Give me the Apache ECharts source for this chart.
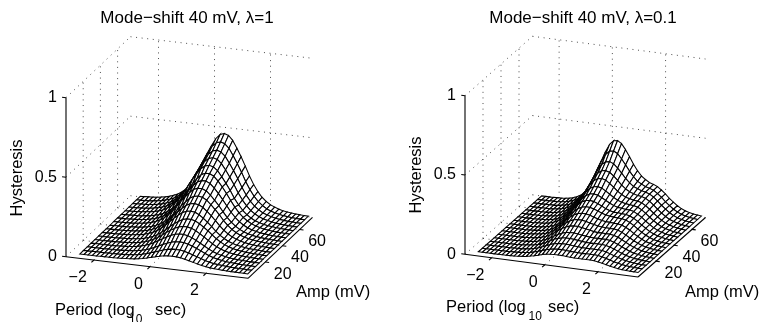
<!DOCTYPE html>
<html>
<head>
<meta charset="utf-8">
<style>
  html, body { margin: 0; padding: 0; background: #fff; }
  #chart { width: 763px; height: 322px; }
</style>
</head>
<body>
<div id="chart"></div>
<script src="https://cdn.jsdelivr.net/npm/echarts@6/dist/echarts.min.js"></script>
<script>
const periods = [-2.6,-2.45,-2.3,-2.15,-2,-1.85,-1.7,-1.55,-1.4,-1.25,-1.1,-.95,-.8,-.65,-.5,-.35,-.2,-.05,.1,.25,.4,.55,.7,.85,1,1.15,1.3,1.45,1.6,1.75,1.9,2.05,2.2,2.35,2.5,2.65,2.8,2.95,3.1,3.25,3.4]
const amps = [3,7.4,11.8,16.2,20.6,25,29.4,33.8,38.2,42.6,47,51.4,55.8,60.2,64.6,69,73.4]

const periodTicks = [-2, 0, 2]
const ampTicks = [20, 40, 60]
const hystTicks = [0, 0.5, 1]
const hystTickLabels = ['0', '0.5', '1']

// hysteresis x 1000, one row per amp, one column per period
const hystLeft = [
  [10,10,10,10,10,11,11,12,12,13,14,16,18,20,24,29,35,42,49,55,61,64,65,64,61,55,49,42,35,29,24,20,18,16,14,13,12,12,11,11,10],
  [10,10,11,11,11,11,12,12,13,14,16,18,21,24,30,36,45,54,63,72,79,84,85,84,79,72,63,54,45,36,30,24,21,18,16,14,13,12,12,11,11],
  [10,11,11,11,11,12,12,13,14,16,18,20,24,29,36,45,56,69,81,92,102,108,110,108,102,92,81,69,56,45,36,29,24,20,18,16,14,13,12,12,11],
  [11,11,11,11,12,12,13,14,16,18,21,25,31,38,48,61,76,91,106,119,129,134,134,129,119,106,91,76,61,48,38,31,25,21,18,16,14,13,12,12,11],
  [11,11,11,12,12,13,14,15,17,20,23,28,35,44,56,71,89,108,125,141,153,159,159,153,141,125,108,89,71,56,44,35,28,23,20,17,15,14,13,12,12],
  [11,11,11,12,12,13,15,16,18,21,25,31,39,49,63,81,102,124,144,162,177,184,184,177,162,144,124,102,81,63,49,39,31,25,21,18,16,15,13,12,12],
  [11,11,12,12,13,14,16,18,21,25,30,38,48,62,80,102,128,152,174,194,206,210,206,194,174,152,128,102,80,62,48,38,30,25,21,18,16,14,13,12,12],
  [11,12,12,13,14,15,17,19,22,27,33,42,53,69,89,114,143,170,195,217,231,235,231,217,195,170,143,114,89,69,53,42,33,27,22,19,17,15,14,13,12],
  [11,12,12,13,14,16,18,20,24,29,35,45,58,75,98,125,158,188,215,240,255,260,255,240,215,188,158,125,98,75,58,45,35,29,24,20,18,16,14,13,12],
  [12,12,13,14,15,17,20,23,28,34,43,55,72,94,121,154,189,220,249,273,284,284,273,249,220,189,154,121,94,72,55,43,34,28,23,20,17,15,14,13,12],
  [12,12,13,14,16,18,21,24,30,36,46,60,78,102,132,168,205,240,271,297,309,309,297,271,240,205,168,132,102,78,60,46,36,30,24,21,18,16,14,13,12],
  [12,13,13,15,16,18,21,25,31,38,49,64,83,109,142,181,221,259,293,320,333,333,320,293,259,221,181,142,109,83,64,49,38,31,25,21,18,16,15,13,13],
  [12,13,14,16,18,21,24,29,36,45,59,77,101,133,171,217,259,297,332,353,360,353,332,297,259,217,171,133,101,77,59,45,36,29,24,21,18,16,14,13,12],
  [13,13,15,16,18,21,25,31,38,48,63,81,108,141,183,231,276,318,355,378,385,378,355,318,276,231,183,141,108,81,63,48,38,31,25,21,18,16,15,13,13],
  [13,14,15,16,19,22,26,32,40,50,66,86,114,150,194,246,294,338,378,402,410,402,378,338,294,246,194,150,114,86,66,50,40,32,26,22,19,16,15,14,13],
  [13,14,15,17,19,23,27,34,42,53,70,92,122,161,208,264,315,363,406,431,440,431,406,363,315,264,208,161,122,92,70,53,42,34,27,23,19,17,15,14,13],
  [13,14,16,17,20,24,28,35,45,56,74,97,130,171,222,281,337,387,433,461,470,461,433,387,337,281,222,171,130,97,74,56,45,35,28,24,20,17,16,14,13]
]

const hystRight = [
  [10,10,10,10,10,10,11,11,12,13,15,17,20,26,31,38,45,51,54,55,56,55,53,51,50,50,50,50,51,49,45,40,34,28,23,19,16,14,13,12,11],
  [10,10,10,10,11,11,11,12,13,15,16,19,23,30,37,46,54,60,65,67,67,65,63,62,61,60,61,61,61,60,54,48,40,33,27,22,18,16,14,13,12],
  [10,10,10,10,11,11,11,12,13,15,17,20,26,33,43,54,64,72,77,80,79,78,75,73,71,70,71,71,71,69,63,55,46,38,30,24,20,17,14,13,12],
  [10,10,10,10,11,11,11,12,14,16,19,23,29,38,49,62,75,84,90,93,93,91,88,85,82,81,82,82,82,79,72,63,52,42,33,26,21,18,15,14,12],
  [10,10,10,10,11,11,12,12,14,17,20,25,32,42,55,70,84,95,103,106,106,103,99,96,93,91,92,92,92,89,80,70,58,47,36,28,23,19,16,14,12],
  [10,10,10,10,11,11,12,13,16,17,22,28,36,48,64,82,99,112,121,125,125,121,116,111,106,103,104,103,103,98,90,78,64,51,40,31,24,20,16,15,13],
  [10,10,10,11,11,11,12,14,16,19,24,30,40,55,72,93,112,128,139,143,143,138,131,125,119,116,115,114,114,109,99,85,70,56,43,33,26,21,17,15,13],
  [10,10,10,11,11,11,12,14,17,20,25,32,44,61,80,103,126,144,156,161,160,155,146,139,132,128,127,125,124,119,108,94,76,61,46,35,28,22,18,16,13],
  [10,10,10,11,11,11,12,15,17,21,27,35,48,67,89,115,140,161,174,180,179,173,163,153,145,140,138,136,135,129,117,101,82,65,50,38,29,23,18,16,14],
  [10,10,10,11,11,11,14,15,18,23,31,42,56,77,103,133,160,182,194,198,194,184,172,159,150,144,143,141,139,133,121,105,85,68,51,39,30,24,19,16,14],
  [10,10,10,11,11,11,14,15,20,24,32,44,61,85,113,146,176,199,213,217,212,200,186,172,160,152,150,146,145,139,125,109,88,70,53,40,31,24,19,17,14],
  [10,10,10,11,11,11,14,16,20,25,35,48,67,93,125,162,195,222,237,241,235,220,203,186,171,162,157,153,151,144,131,112,91,72,55,41,32,25,19,17,14],
  [10,10,10,11,11,11,14,16,21,27,37,53,74,105,140,181,218,249,266,270,263,245,225,203,186,172,166,160,157,150,135,116,94,74,56,42,32,25,20,17,14],
  [10,10,10,11,11,11,14,16,22,29,40,57,82,115,155,201,242,275,294,298,290,270,246,220,199,184,175,167,164,156,140,120,97,77,58,43,33,26,20,17,14],
  [10,10,10,11,12,12,14,18,23,31,43,63,90,128,172,224,270,307,328,333,322,298,270,240,215,195,185,175,170,161,145,124,100,79,60,45,34,27,21,18,15],
  [10,10,10,11,12,12,15,18,25,33,47,70,101,145,195,254,306,349,373,378,364,334,300,263,232,206,192,179,172,163,145,125,100,79,60,45,34,27,21,18,15],
  [10,10,10,11,12,12,15,19,26,36,51,77,113,161,218,284,343,391,417,422,406,371,330,286,248,218,199,183,175,164,146,125,100,79,60,45,34,27,21,18,15]
]

const PERIOD_MIN = -3
const PERIOD_MAX = 3.5
const AMP_MIN = 0
const AMP_MAX = 75

const FONT = '"Liberation Sans", Arial, sans-serif'

// oblique view of each box: where the origin goes and what each axis adds on screen
const panels = [
  { name: 'left', hyst: hystLeft, ox: 66, oy: 256.7, tx: 182, ty: 21.6, sx: 64.5, sy: -61, zh: 159 },
  { name: 'right', hyst: hystRight, ox: 465, oy: 254.3, tx: 173, ty: 22.7, sx: 67.5, sy: -59.5, zh: 158.5 }
]

function project(view, period, amp, hyst) {
  const t = (period - PERIOD_MIN) / (PERIOD_MAX - PERIOD_MIN)
  const s = (amp - AMP_MIN) / (AMP_MAX - AMP_MIN)
  return [
    view.ox + t * view.tx + s * view.sx,
    view.oy + t * view.ty + s * view.sy - hyst * view.zh
  ]
}

function wallSegments() {
  const list = []
  hystTicks.forEach(z => {
    list.push([PERIOD_MIN, AMP_MIN, z, PERIOD_MIN, AMP_MAX, z])
    list.push([PERIOD_MIN, AMP_MAX, z, PERIOD_MAX, AMP_MAX, z])
  })
  ampTicks.forEach(a => {
    list.push([PERIOD_MIN, a, 0, PERIOD_MIN, a, 1])
    list.push([PERIOD_MIN, a, 0, PERIOD_MAX, a, 0])
  })
  periodTicks.forEach(p => {
    list.push([p, AMP_MAX, 0, p, AMP_MAX, 1])
    list.push([p, AMP_MIN, 0, p, AMP_MAX, 0])
  })
  return list
}

function axisSegments() {
  const list = [
    [PERIOD_MIN, AMP_MIN, 0, PERIOD_MIN, AMP_MIN, 1],
    [PERIOD_MIN, AMP_MIN, 0, PERIOD_MAX, AMP_MIN, 0],
    [PERIOD_MAX, AMP_MIN, 0, PERIOD_MAX, AMP_MAX, 0]
  ]
  periodTicks.forEach(p => list.push([p, AMP_MIN, 0, p, AMP_MIN - 3, 0]))
  ampTicks.forEach(a => list.push([PERIOD_MAX, a, 0, PERIOD_MAX + 0.14, a, 0]))
  hystTicks.forEach(z => list.push([PERIOD_MIN, AMP_MIN, z, PERIOD_MIN - 0.14, AMP_MIN, z]))
  return list
}

function surfaceCells() {
  // back rows first, far side of each row first, so nearer cells cover them
  const cells = []
  for (let k = amps.length - 2; k >= 0; k--) {
    for (let j = 0; j < periods.length - 1; j++) {
      cells.push([k, j])
    }
  }
  return cells
}

function segmentItem(view, api, style) {
  const a = project(view, api.value(0), api.value(1), api.value(2))
  const b = project(view, api.value(3), api.value(4), api.value(5))
  const p0 = api.coord(a)
  const p1 = api.coord(b)
  return {
    type: 'line',
    shape: { x1: p0[0], y1: p0[1], x2: p1[0], y2: p1[1] },
    style: style
  }
}

function tickLabelSeries(view) {
  const items = []
  periodTicks.forEach(p => {
    const q = project(view, p, AMP_MIN, 0)
    items.push([q[0] - 7.2, q[1] + 17.5, String(p).replace('-', '\u2212'), 'right'])
  })
  ampTicks.forEach(a => {
    const q = project(view, PERIOD_MAX, a, 0)
    items.push([q[0] + 17.5, q[1] + 12.3, String(a), 'center'])
  })
  hystTicks.forEach((z, i) => {
    const q = project(view, PERIOD_MIN, AMP_MIN, z)
    items.push([q[0] - 9, q[1], hystTickLabels[i], 'right'])
  })
  return {
    type: 'custom',
    coordinateSystem: 'cartesian2d',
    silent: true,
    animation: false,
    clip: false,
    z: 5,
    data: items,
    renderItem(params, api) {
      const item = items[params.dataIndex]
      const p = api.coord([item[0], item[1]])
      return {
        type: 'text',
        style: {
          x: p[0],
          y: p[1],
          text: item[2],
          align: item[3],
          verticalAlign: 'middle',
          fontFamily: FONT,
          fontSize: 16,
          fill: '#000'
        }
      }
    }
  }
}

function panelSeries(view) {
  const walls = wallSegments()
  const axes = axisSegments()
  const cells = surfaceCells()
  return [
    {
      type: 'custom',
      coordinateSystem: 'cartesian2d',
      silent: true,
      animation: false,
      clip: false,
      z: 1,
      data: walls,
      renderItem(params, api) {
        return segmentItem(view, api, { stroke: 'rgba(0,0,0,0.7)', lineWidth: 1, lineDash: [1, 4.6] })
      }
    },
    {
      type: 'custom',
      coordinateSystem: 'cartesian2d',
      silent: true,
      animation: false,
      clip: false,
      progressive: 0,
      z: 2,
      data: cells,
      renderItem(params, api) {
        const k = api.value(0)
        const j = api.value(1)
        const corners = [[k, j], [k, j + 1], [k + 1, j + 1], [k + 1, j]].map(c =>
          api.coord(project(view, periods[c[1]], amps[c[0]], view.hyst[c[0]][c[1]] / 1000))
        )
        return {
          type: 'polygon',
          shape: { points: corners },
          style: { fill: '#fff', stroke: '#000', lineWidth: 1.05 }
        }
      }
    },
    {
      type: 'custom',
      coordinateSystem: 'cartesian2d',
      silent: true,
      animation: false,
      clip: false,
      z: 3,
      data: axes,
      renderItem(params, api) {
        return segmentItem(view, api, { stroke: '#000', lineWidth: 1.1 })
      }
    },
    tickLabelSeries(view)
  ]
}

function nameText(text, x, y, extra) {
  return Object.assign({
    type: 'text',
    x: x,
    y: y,
    silent: true,
    z: 10,
    style: {
      text: text,
      fontFamily: FONT,
      fontSize: 16.5,
      fill: '#000',
      align: 'left',
      verticalAlign: 'middle'
    }
  }, extra || {})
}

function subText(text, x, y) {
  const el = nameText(text, x, y)
  el.style.fontSize = 12
  return el
}

function hystName(x, y) {
  const el = nameText('Hysteresis', x, y, { rotation: Math.PI / 2 })
  el.style.align = 'center'
  return el
}

const chart = echarts.init(document.getElementById('chart'), null, { renderer: 'canvas' })

chart.setOption({
  animation: false,
  backgroundColor: '#fff',
  title: [
    {
      text: 'Mode\u2212shift 40 mV, \u03bb=1',
      left: 182,
      top: 5,
      textAlign: 'center',
      textStyle: { fontFamily: FONT, fontWeight: 'normal', fontSize: 17, color: '#000' }
    },
    {
      text: 'Mode\u2212shift 40 mV, \u03bb=0.1',
      left: 578,
      top: 5,
      textAlign: 'center',
      textStyle: { fontFamily: FONT, fontWeight: 'normal', fontSize: 17, color: '#000' }
    }
  ],
  grid: { left: 0, top: 0, width: 763, height: 322, show: false },
  xAxis: { type: 'value', min: 0, max: 763, show: false },
  yAxis: { type: 'value', min: 0, max: 322, inverse: true, show: false },
  graphic: [
    hystName(17.5, 178),
    hystName(416, 175),
    nameText('Amp (mV)', 296, 292),
    nameText('Amp (mV)', 685, 292),
    nameText('Period (log', 55, 310),
    subText('10', 129, 320),
    nameText('sec)', 155, 310),
    nameText('Period (log', 446, 307),
    subText('10', 528.5, 317),
    nameText('sec)', 548, 307)
  ],
  series: panelSeries(panels[0]).concat(panelSeries(panels[1]))
})
</script>
</body>
</html>
